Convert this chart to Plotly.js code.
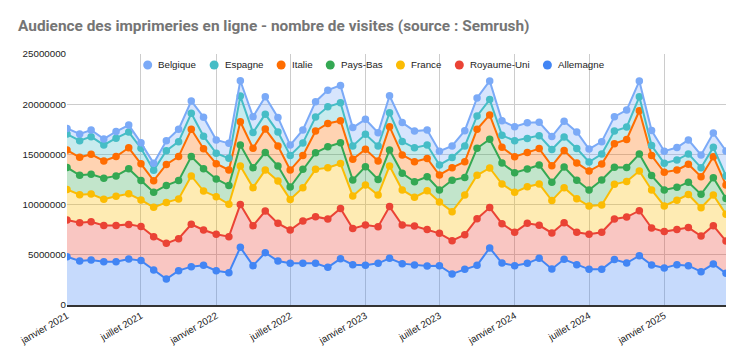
<!DOCTYPE html>
<html>
<head>
<meta charset="utf-8">
<script src="https://cdn.plot.ly/plotly-3.0.1.min.js"></script>
<style>
html,body{margin:0;padding:0;background:#fff;}
#chart{width:744px;height:359px;}
</style>
</head>
<body>
<div id="chart"></div>
<script>
const months = [
"2021-01-01","2021-02-01","2021-03-01","2021-04-01","2021-05-01","2021-06-01","2021-07-01","2021-08-01","2021-09-01","2021-10-01","2021-11-01","2021-12-01",
"2022-01-01","2022-02-01","2022-03-01","2022-04-01","2022-05-01","2022-06-01","2022-07-01","2022-08-01","2022-09-01","2022-10-01","2022-11-01","2022-12-01",
"2023-01-01","2023-02-01","2023-03-01","2023-04-01","2023-05-01","2023-06-01","2023-07-01","2023-08-01","2023-09-01","2023-10-01","2023-11-01","2023-12-01",
"2024-01-01","2024-02-01","2024-03-01","2024-04-01","2024-05-01","2024-06-01","2024-07-01","2024-08-01","2024-09-01","2024-10-01","2024-11-01","2024-12-01",
"2025-01-01","2025-02-01","2025-03-01","2025-04-01","2025-05-01","2025-06-01"];

const allemagne = [4810000,4380000,4480000,4320000,4320000,4580000,4420000,3490000,2590000,3420000,3820000,3950000,
3420000,3220000,5740000,3920000,5210000,4380000,4150000,4150000,4150000,3750000,4610000,4020000,
3950000,4150000,4650000,4120000,3980000,3880000,3920000,3090000,3550000,3950000,5680000,4180000,
3920000,4150000,4650000,3590000,4550000,4020000,3550000,3550000,4520000,4180000,4910000,3980000,
3690000,4020000,3920000,3320000,4080000,3150000];

const royaumeUni = [3650000,3820000,3820000,3590000,3590000,3450000,3390000,3320000,3550000,3190000,4220000,3520000,
3620000,3590000,4280000,3980000,4150000,3750000,3320000,4220000,4650000,4810000,5010000,3590000,
4020000,3650000,5150000,3850000,3880000,3650000,3220000,3320000,3450000,4650000,4020000,3920000,
3320000,3980000,3290000,3590000,3650000,3220000,3490000,3690000,4050000,4580000,4480000,3690000,
3620000,3490000,3790000,3550000,3820000,3220000];

const france = [3050000,2790000,2760000,2620000,2920000,3050000,2660000,2920000,4080000,3950000,4810000,3880000,
3750000,3220000,3820000,3790000,4080000,4220000,3050000,3320000,4710000,5110000,4480000,3250000,
3980000,3150000,4050000,3490000,2860000,3850000,3120000,2890000,3950000,4320000,3950000,3950000,
3980000,3650000,4120000,3220000,3490000,3350000,2820000,2720000,3450000,3550000,3950000,3790000,
2560000,2920000,3290000,2820000,3050000,2660000];

const paysBas = [2190000,1930000,1960000,2090000,2030000,2490000,1930000,1490000,1690000,1830000,1930000,2220000,
1760000,1860000,2090000,1990000,1760000,1490000,1230000,1830000,1660000,2090000,2060000,1590000,
1830000,1560000,1590000,1660000,1560000,1390000,1200000,3120000,1760000,2690000,2860000,2090000,
1960000,1760000,1890000,1830000,2060000,1830000,1590000,2490000,1690000,1390000,1690000,1430000,
1590000,1290000,1230000,1330000,1730000,1590000];

const italie = [1730000,1790000,1990000,1730000,1930000,2090000,1660000,1160000,2090000,2390000,2720000,1990000,
1530000,1560000,2320000,1930000,2320000,1990000,1690000,1360000,2160000,2320000,2190000,2060000,
1730000,1830000,2320000,1830000,1990000,1830000,1490000,1260000,1560000,1890000,2420000,1560000,
1590000,1660000,1630000,1630000,1630000,1730000,1890000,1590000,2360000,2790000,4320000,1990000,
1760000,1730000,1790000,1760000,2090000,1330000];

const espagne = [1590000,1660000,1760000,1590000,1830000,1560000,1560000,1030000,1360000,1490000,1590000,1260000,
1030000,1160000,2560000,1560000,1490000,1390000,1460000,1260000,1390000,1660000,1790000,1330000,
1490000,1490000,1390000,1330000,1390000,1330000,1000000,1000000,1560000,1330000,1530000,1200000,
1590000,1390000,1290000,1630000,1360000,1430000,900000,1000000,1260000,1230000,1390000,1000000,
900000,1000000,1030000,900000,930000,900000];

const belgique = [560000,660000,660000,600000,660000,700000,530000,700000,1000000,1230000,1230000,1890000,
1330000,1490000,1530000,1590000,1730000,1460000,1030000,1290000,1530000,1660000,1730000,1830000,
1490000,1330000,1690000,1890000,1660000,1490000,1360000,1160000,1530000,1790000,1860000,1460000,
1390000,1560000,1330000,1290000,1560000,1660000,1290000,1230000,1430000,1690000,1560000,1490000,
1200000,1230000,1390000,1260000,1430000,2490000];

const tickDates = ["2021-01-01","2021-07-01","2022-01-01","2022-07-01","2023-01-01","2023-07-01","2024-01-01","2024-07-01","2025-01-01"];
const tickLabels = ["janvier 2021","juillet 2021","janvier 2022","juillet 2022","janvier 2023","juillet 2023","janvier 2024","juillet 2024","janvier 2025"];

const seriesNames = ["Allemagne","Royaume-Uni","France","Pays-Bas","Italie","Espagne","Belgique"];
const seriesValues = [allemagne, royaumeUni, france, paysBas, italie, espagne, belgique];
const seriesColors = ["#4285F4","#EA4335","#FBBC04","#34A853","#FF6D01","#46BDC6","#7BAAF7"];
const legendOrder = ["Belgique","Espagne","Italie","Pays-Bas","France","Royaume-Uni","Allemagne"];

function rgba(hex, a){
  const r = parseInt(hex.slice(1,3),16), g = parseInt(hex.slice(3,5),16), b = parseInt(hex.slice(5,7),16);
  return `rgba(${r},${g},${b},${a})`;
}

const traces = seriesNames.map((name, k) => ({
  type: 'scatter', mode: 'lines+markers', name: name,
  x: months, y: seriesValues[k],
  stackgroup: 'one',
  line: {color: seriesColors[k], width: 2},
  marker: {color: seriesColors[k], size: 7.5},
  fillcolor: rgba(seriesColors[k], 0.3),
  showlegend: false, hoverinfo: 'skip'
}));

// plot box (pixels)
const L = 67, R = 18, T = 54, B = 54;
const W = 744 - L - R, H = 359 - T - B;
const FONT = "Liberation Sans, Arial, sans-serif";
const FS = 9.75;

// legend: circle + label, laid out by measured text width
const ctx = document.createElement('canvas').getContext('2d');
ctx.font = FS + "px 'Liberation Sans'";
const shapes = [], annotations = [];
const legY = 65;
let cx = 147.7;
legendOrder.forEach(name => {
  const k = seriesNames.indexOf(name);
  const yp = (T + H - legY) / H;
  shapes.push({type: 'circle', xref: 'paper', yref: 'paper', xsizemode: 'pixel', ysizemode: 'pixel',
    xanchor: (cx - L) / W, yanchor: yp, x0: -4.5, x1: 4.5, y0: -4.5, y1: 4.5,
    fillcolor: seriesColors[k], line: {width: 0}});
  const tx = cx + 10.5;
  annotations.push({xref: 'paper', yref: 'paper', x: (tx - 1 - L) / W, y: yp, xanchor: 'left', yanchor: 'middle',
    text: name, showarrow: false, borderpad: 0, font: {family: FONT, size: FS, color: '#222'}});
  cx = tx + ctx.measureText(name).width + 18;
});

const layout = {
  width: 744, height: 359,
  margin: {l: L, r: R, t: T, b: B},
  paper_bgcolor: '#fff', plot_bgcolor: '#fff',
  font: {family: FONT, size: FS, color: '#222'},
  title: {
    text: 'Audience des imprimeries en ligne - nombre de visites (source : Semrush)',
    font: {family: 'Roboto, sans-serif', size: 15.4, color: '#757575', weight: 'bold'},
    x: 18/744, xanchor: 'left', xref: 'container',
    y: 1 - 26/359, yanchor: 'middle', yref: 'container'
  },
  showlegend: false,
  shapes: shapes,
  annotations: annotations,
  xaxis: {
    type: 'date', range: ['2021-01-01', '2025-06-01'],
    tickvals: tickDates, ticktext: tickLabels, tickangle: -30,
    showgrid: true, gridcolor: '#cccccc', gridwidth: 1,
    showline: true, linecolor: '#333333', linewidth: 1.5,
    zeroline: false, ticks: '', tickfont: {size: FS, color: '#222'}
  },
  yaxis: {
    range: [0, 25000000], dtick: 5000000, tick0: 0, tickformat: 'd',
    showgrid: true, gridcolor: '#cccccc', gridwidth: 1,
    zeroline: false, showline: false, ticks: '',
    tickfont: {size: FS, color: '#222'}
  },
  hovermode: false
};

Plotly.newPlot('chart', traces, layout, {displayModeBar: false, staticPlot: true});
</script>
</body>
</html>
